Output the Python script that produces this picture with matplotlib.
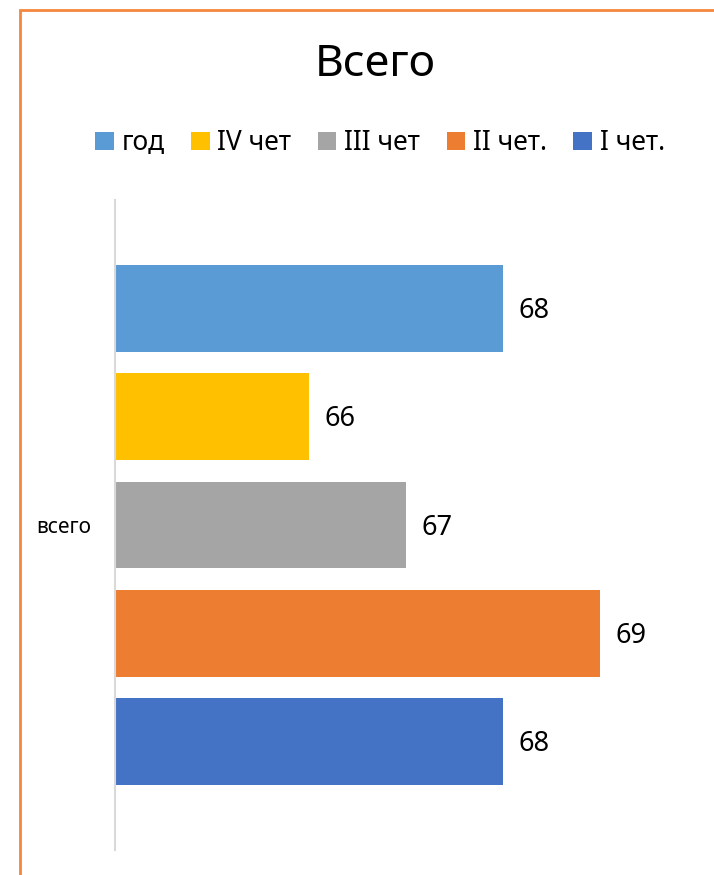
import matplotlib.pyplot as plt
from matplotlib.patches import Rectangle, Patch

plt.rcParams['font.family'] = ['Noto Sans', 'DejaVu Sans']

# series from bottom to top
series = ['I чет.', 'II чет.', 'III чет', 'IV чет', 'год']
values = [68, 69, 67, 66, 68]
colors = ['#4472C4', '#ED7D31', '#A5A5A5', '#FFC000', '#5B9BD5']
category = 'всего'

W, H = 714, 875
fig = plt.figure(figsize=(W / 100, H / 100), dpi=100)

# plot area in pixel terms
left, right, top, bottom = 115, 697, 200, 850
ax = fig.add_axes([left / W, 1 - bottom / H, (right - left) / W, (bottom - top) / H])

pos = list(range(len(series)))
ax.barh(pos, [v - 64 for v in values], left=64, height=0.8, color=colors)
for p, v in zip(pos, values):
    ax.annotate(str(v), (v, p), xytext=(11.5, -2), textcoords='offset points',
                va='center', ha='left', fontsize=19.5, color='#000000')

ax.set_xlim(64, 70)
ax.set_ylim(-1, 5)
ax.set_xticks([])
ax.set_yticks([2])
ax.set_yticklabels([category], fontsize=15)
ax.tick_params(axis='y', length=0, pad=17)
for s in ['top', 'right', 'bottom']:
    ax.spines[s].set_visible(False)
ax.spines['left'].set_color('#D9D9D9')
ax.spines['left'].set_linewidth(1.5)

fig.text(375 / W, 1 - 65 / H, 'Всего', ha='center', va='center', fontsize=32)

handles = [Patch(facecolor=c, edgecolor='none') for c in colors[::-1]]
fig.legend(handles, series[::-1], loc='center', bbox_to_anchor=(380 / W, 1 - 143 / H),
           ncol=5, frameon=False, fontsize=19, handlelength=0.7, handleheight=0.7,
           handletextpad=0.3, columnspacing=1.0)

# chart border (only top and left sides visible)
fig.patches.append(Rectangle((20 / W, -0.1), 1.2, 1 - 10 / H + 0.1, transform=fig.transFigure,
                             fill=False, edgecolor='#F4873D', linewidth=2))

fig.savefig('out.png', dpi=100)
